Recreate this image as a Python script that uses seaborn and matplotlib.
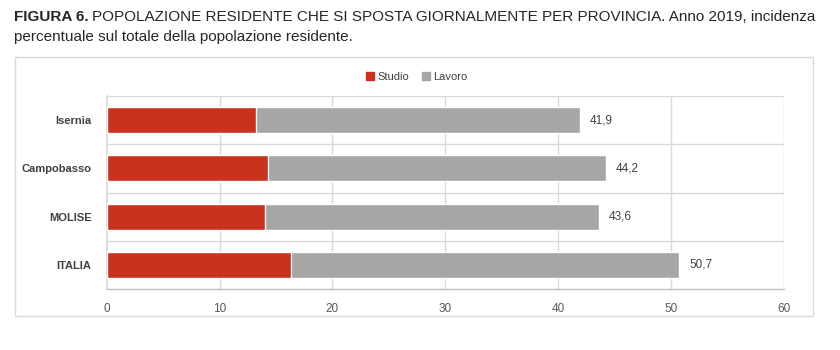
import matplotlib
matplotlib.use("Agg")
import matplotlib.pyplot as plt
from matplotlib.patches import Rectangle, Patch
import seaborn as sns
import pandas as pd

categories = ["Isernia", "Campobasso", "MOLISE", "ITALIA"]
studio = [13.2, 14.3, 14.0, 16.3]
totale = [41.9, 44.2, 43.6, 50.7]
total_labels = ["41,9", "44,2", "43,6", "50,7"]
xticks = [0, 10, 20, 30, 40, 50, 60]

sns.set_theme(style="white")
plt.rcParams["font.family"] = ["Liberation Sans", "DejaVu Sans"]

RED = "#C9321F"
GREY = "#A6A6A6"
TXT = "#404040"
GRID = "#D9D9D9"

df = pd.DataFrame({"cat": categories, "studio": studio, "totale": totale})

fig = plt.figure(figsize=(8.4, 3.5), dpi=100)
fig.patches.append(Rectangle((15/840, 1-316/350), (813-15)/840, (316-57)/350,
                             transform=fig.transFigure, fill=False,
                             edgecolor=GRID, linewidth=1.0))
ax = fig.add_axes([106.7/840, 1-289/350, (784-106.7)/840, (289-96)/350])

sns.barplot(data=df, y="cat", x="totale", color=GREY, width=0.54, ax=ax,
            orient="h", saturation=1, zorder=3)
sns.barplot(data=df, y="cat", x="studio", color=RED, width=0.54, ax=ax,
            orient="h", saturation=1, zorder=4)

ax.set_xlim(0, 60)
ax.set_ylim(3.5, -0.5)
ax.set_xticks(xticks)
ax.set_xticklabels([str(t) for t in xticks], color="#595959", fontsize=8.5)
ax.tick_params(axis="x", length=4, color="#BFBFBF", width=1, pad=6)
ax.tick_params(axis="y", length=0, pad=11)
ax.set_yticklabels(categories, fontsize=8, fontweight="bold", color=TXT)
ax.set_xlabel("")
ax.set_ylabel("")

for x in xticks[1:]:
    ax.axvline(x, color=GRID, linewidth=1, zorder=1)
for y in [-0.5, 0.5, 1.5, 2.5]:
    ax.axhline(y, color=GRID, linewidth=1, zorder=1)

for s in ["top", "right"]:
    ax.spines[s].set_visible(False)
ax.spines["left"].set_color(GRID)
ax.spines["bottom"].set_color("#BFBFBF")
ax.spines["bottom"].set_linewidth(1)

for i, (t, lab) in enumerate(zip(totale, total_labels)):
    ax.text(t + 0.9, i, lab, va="center", ha="left", fontsize=8.5, color=TXT)

handles = [Patch(color=RED, label="Studio"), Patch(color=GREY, label="Lavoro")]
fig.legend(handles=handles, loc="center", bbox_to_anchor=(417/840, 1-77/350),
           ncol=2, frameon=False, fontsize=8, handlelength=0.7, handleheight=0.7,
           handletextpad=0.3, columnspacing=1.2, labelcolor=TXT)

# Title: fit the first line between x=14 and x=816 px
renderer = fig.canvas.get_renderer()
fs = 12.0
t1 = fig.text(14/840, 1-17/350, "FIGURA 6.", fontsize=fs, fontweight="bold",
              color="#262626", va="center", ha="left")
t2 = fig.text(0, 1-17/350,
              "POPOLAZIONE RESIDENTE CHE SI SPOSTA GIORNALMENTE PER PROVINCIA. Anno 2019, incidenza",
              fontsize=fs, color="#262626", va="center", ha="left")
for _ in range(6):
    t1.set_fontsize(fs)
    t2.set_fontsize(fs)
    w1 = t1.get_window_extent(renderer).width
    gap = fs * 0.35
    t2.set_x((14 + w1 + gap) / 840)
    w2 = t2.get_window_extent(renderer).width
    total = w1 + gap + w2
    fs = fs * (816 - 14) / total
t1.set_fontsize(fs)
t2.set_fontsize(fs)
w1 = t1.get_window_extent(renderer).width
t2.set_x((14 + w1 + fs * 0.35) / 840)
fig.text(14/840, 1-37/350, "percentuale sul totale della popolazione residente.",
         fontsize=fs, color="#262626", va="center", ha="left")

fig.savefig("out.png", dpi=100)
